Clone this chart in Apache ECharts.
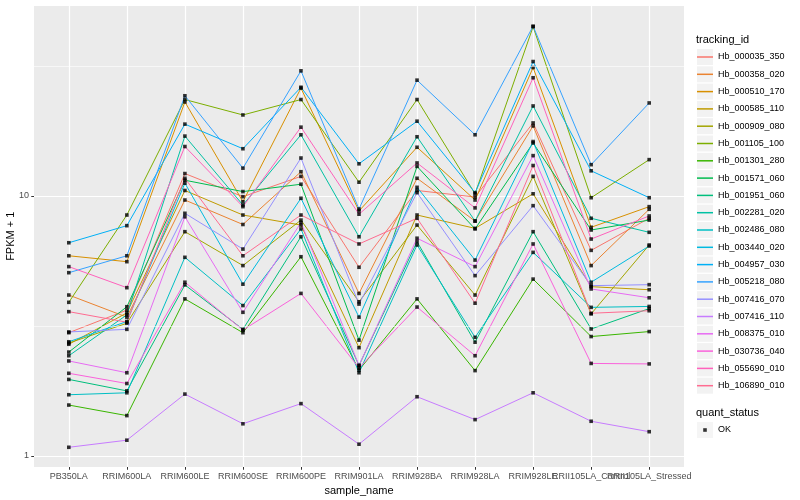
<!DOCTYPE html>
<html><head><meta charset="utf-8">
<script src="https://cdn.jsdelivr.net/npm/echarts@6/dist/echarts.min.js"></script>
<style>html,body{margin:0;padding:0;background:#fff}#c{width:800px;height:500px}</style>
</head><body><div id="c"></div>
<script>
const categories = ['PB350LA','RRIM600LA','RRIM600LE','RRIM600SE','RRIM600PE','RRIM901LA','RRIM928BA','RRIM928LA','RRIM928LE','RRII105LA_Control','RRII105LA_Stressed'];
const trackingIds = ['Hb_000035_350','Hb_000358_020','Hb_000510_170','Hb_000585_110','Hb_000909_080','Hb_001105_100','Hb_001301_280','Hb_001571_060','Hb_001951_060','Hb_002281_020','Hb_002486_080','Hb_003440_020','Hb_004957_030','Hb_005218_080','Hb_007416_070','Hb_007416_110','Hb_008375_010','Hb_030736_040','Hb_055690_010','Hb_106890_010'];
const colors = ['#F8766D','#EA8331','#D89000','#C09B00','#A3A500','#7CAE00','#39B600','#00BB4E','#00BF7D','#00C1A3','#00BFC4','#00BAE0','#00B0F6','#35A2FF','#9590FF','#C77CFF','#E76BF3','#FA62DB','#FF62BC','#FF6C91'];
const yMinorGrid = [3.1623, 31.623];

const Hb_000035_350 = [2.98, 3.64, 12.2, 9.94, 11.9, 5.32, 10.5, 9.91, 19.1, 6.18, 8.21];
const Hb_000358_020 = [4.16, 3.42, 9.65, 7.77, 12.4, 4.22, 11.7, 8.01, 18.6, 5.40, 8.89];
const Hb_000510_170 = [5.89, 5.59, 23.0, 9.51, 26.0, 8.76, 15.4, 9.65, 31.2, 7.58, 9.10];
const Hb_000585_110 = [2.69, 3.55, 10.5, 8.45, 7.73, 2.61, 8.45, 7.51, 10.2, 4.48, 4.36];
const Hb_000909_080 = [2.72, 3.24, 7.29, 5.40, 8.08, 3.92, 7.73, 4.16, 11.9, 3.52, 6.48];
const Hb_001105_100 = [3.90, 8.45, 23.5, 20.5, 23.5, 11.3, 23.5, 10.2, 44.8, 9.85, 13.8];
const Hb_001301_280 = [1.57, 1.43, 4.02, 2.98, 5.84, 2.14, 4.02, 2.13, 4.79, 2.88, 3.01];
const Hb_001571_060 = [2.51, 3.75, 11.5, 10.4, 11.1, 2.79, 13.0, 7.47, 16.0, 7.40, 8.08];
const Hb_001951_060 = [1.97, 1.78, 4.55, 3.07, 6.97, 2.23, 6.67, 2.74, 7.29, 3.08, 3.69];
const Hb_002281_020 = [2.43, 3.49, 17.0, 9.23, 17.2, 6.97, 16.9, 8.01, 22.2, 8.21, 7.25];
const Hb_002486_080 = [1.72, 1.75, 5.81, 3.79, 7.47, 2.09, 6.48, 2.86, 6.07, 3.73, 3.76];
const Hb_003440_020 = [2.75, 3.29, 11.2, 4.58, 9.80, 3.42, 10.8, 5.67, 16.2, 4.66, 6.42];
const Hb_004957_030 = [6.61, 7.69, 18.9, 15.2, 26.2, 13.3, 19.4, 10.3, 32.9, 12.5, 9.85];
const Hb_005218_080 = [5.07, 5.89, 24.3, 12.8, 30.3, 8.91, 27.9, 17.2, 45.0, 13.2, 22.8];
const Hb_007416_070 = [3.00, 3.07, 8.58, 6.25, 14.0, 3.84, 10.3, 4.94, 9.18, 4.52, 4.56];
const Hb_007416_110 = [1.08, 1.15, 1.73, 1.33, 1.59, 1.11, 1.69, 1.38, 1.75, 1.36, 1.24];
const Hb_008375_010 = [2.32, 2.09, 8.32, 3.57, 7.90, 2.23, 6.88, 5.35, 14.3, 4.39, 4.06];
const Hb_030736_040 = [2.08, 1.90, 4.66, 3.05, 4.22, 2.18, 3.74, 2.43, 6.54, 2.27, 2.26];
const Hb_055690_010 = [5.35, 4.44, 15.5, 9.10, 18.4, 8.51, 13.4, 9.00, 28.5, 6.83, 8.38];
const Hb_106890_010 = [3.59, 3.27, 11.7, 5.89, 8.45, 6.54, 8.21, 3.87, 13.1, 3.54, 3.62];

const seriesValues = [Hb_000035_350, Hb_000358_020, Hb_000510_170, Hb_000585_110, Hb_000909_080, Hb_001105_100, Hb_001301_280, Hb_001571_060, Hb_001951_060, Hb_002281_020, Hb_002486_080, Hb_003440_020, Hb_004957_030, Hb_005218_080, Hb_007416_070, Hb_007416_110, Hb_008375_010, Hb_030736_040, Hb_055690_010, Hb_106890_010];

const FONT = 'Liberation Sans, Arial, Helvetica, sans-serif';
const catIdx = categories.map((c, i) => i);
// labels split over two axes so that ECharts does not drop the overlapping "Control" label
const labelIdxMain = catIdx.filter(i => i !== 9);
const labelIdxExtra = [9];

const series = [];
series.push({
  type: 'line', name: '_minor', data: [], silent: true, z: 1,
  markLine: {
    silent: true, symbol: 'none', animation: false,
    label: {show: false},
    lineStyle: {color: '#ffffff', width: 0.6, type: 'solid'},
    emphasis: {disabled: true},
    data: yMinorGrid.map(v => ({yAxis: v}))
  }
});
seriesValues.forEach((vals, k) => {
  series.push({
    type: 'line', name: trackingIds[k], color: colors[k], z: 2,
    data: vals.map((v, i) => [i, v]),
    symbol: 'none', showSymbol: false, silent: true,
    lineStyle: {width: 1, color: colors[k]},
    itemStyle: {color: colors[k]},
    emphasis: {disabled: true}, animation: false
  });
});
const pts = [];
seriesValues.forEach(vals => vals.forEach((v, i) => pts.push([i, v])));
series.push({
  type: 'scatter', name: 'OK', data: pts, symbol: 'rect', symbolSize: 3.6, z: 3,
  itemStyle: {color: '#000000'}, silent: true, animation: false, emphasis: {disabled: true}
});

const labelStyle = {color: '#4D4D4D', fontSize: 9, margin: 5, fontFamily: FONT, hideOverlap: false};

const chart = echarts.init(document.getElementById('c'), null, {renderer: 'canvas'});
chart.setOption({
  animation: false,
  backgroundColor: '#ffffff',
  textStyle: {fontFamily: FONT},
  grid: {left: 34, right: 116, top: 5.5, bottom: 33, show: true, backgroundColor: '#EBEBEB', borderWidth: 0, containLabel: false, outerBoundsMode: 'none'},
  title: [
    {text: 'tracking_id', left: 696, top: 34, textStyle: {fontSize: 11, fontWeight: 'normal', color: '#000', fontFamily: FONT}, padding: 0},
    {text: 'quant_status', left: 696, top: 407, textStyle: {fontSize: 11, fontWeight: 'normal', color: '#000', fontFamily: FONT}, padding: 0}
  ],
  legend: [
    {orient: 'vertical', left: 697, top: 49, itemWidth: 16, itemHeight: 16, itemGap: 1.3, padding: 0,
     icon: 'rect', selectedMode: false, data: trackingIds,
     itemStyle: {color: '#F2F2F2', borderWidth: 0},
     textStyle: {fontSize: 9, color: '#000', fontFamily: FONT}},
    {orient: 'vertical', left: 697, top: 49, itemWidth: 16, itemHeight: 1.5, itemGap: 1.3, padding: 0,
     icon: 'rect', selectedMode: false,
     data: trackingIds.map((n, k) => ({name: n, itemStyle: {color: colors[k], borderWidth: 0}})),
     itemStyle: {borderWidth: 0},
     textStyle: {fontSize: 9, lineHeight: 16, color: 'rgba(0,0,0,0)', fontFamily: FONT}},
    {orient: 'vertical', left: 697, top: 422, itemWidth: 16, itemHeight: 16, padding: 0,
     icon: 'rect', selectedMode: false, data: ['OK'],
     itemStyle: {color: '#F2F2F2', borderWidth: 0},
     textStyle: {fontSize: 9, color: '#000', fontFamily: FONT}},
    {orient: 'vertical', left: 703.2, top: 428.2, itemWidth: 3.6, itemHeight: 3.6, padding: 0,
     icon: 'rect', selectedMode: false, data: ['OK'],
     itemStyle: {color: '#000', borderWidth: 0},
     textStyle: {fontSize: 2, lineHeight: 3.6, color: 'rgba(0,0,0,0)', fontFamily: FONT}}
  ],
  xAxis: [{
    type: 'value', min: -0.6, max: 10.6,
    axisLine: {show: false, onZero: false},
    axisTick: {show: true, length: 2.75, customValues: catIdx, lineStyle: {color: '#333333', width: 1}},
    axisLabel: Object.assign({customValues: labelIdxMain, formatter: v => categories[Math.round(v)], showMinLabel: true, showMaxLabel: true}, labelStyle),
    splitLine: {show: true, lineStyle: {color: '#ffffff', width: 1.2}},
    name: 'sample_name', nameLocation: 'middle', nameGap: 17,
    nameTextStyle: {color: '#000', fontSize: 11, fontFamily: FONT}
  }, {
    type: 'value', min: -0.6, max: 10.6, position: 'bottom',
    axisLine: {show: false, onZero: false}, axisTick: {show: false}, splitLine: {show: false},
    axisLabel: Object.assign({customValues: labelIdxExtra, formatter: v => categories[Math.round(v)], showMinLabel: true, showMaxLabel: true}, labelStyle)
  }],
  yAxis: {
    type: 'log', logBase: 10, min: 0.907, max: 54.05,
    axisLine: {show: false, onZero: false},
    axisTick: {show: true, length: 2.75, lineStyle: {color: '#333333', width: 1}},
    axisLabel: {color: '#4D4D4D', fontSize: 9, margin: 5, showMinLabel: false, showMaxLabel: false, fontFamily: FONT},
    splitLine: {show: true, lineStyle: {color: '#ffffff', width: 1.2}},
    minorTick: {show: false}, minorSplitLine: {show: false},
    name: 'FPKM + 1', nameLocation: 'middle', nameGap: 17.5, nameMoveOverlap: false,
    nameTextStyle: {color: '#000', fontSize: 11, fontFamily: FONT}
  },
  series: series
});
</script>
</body></html>
